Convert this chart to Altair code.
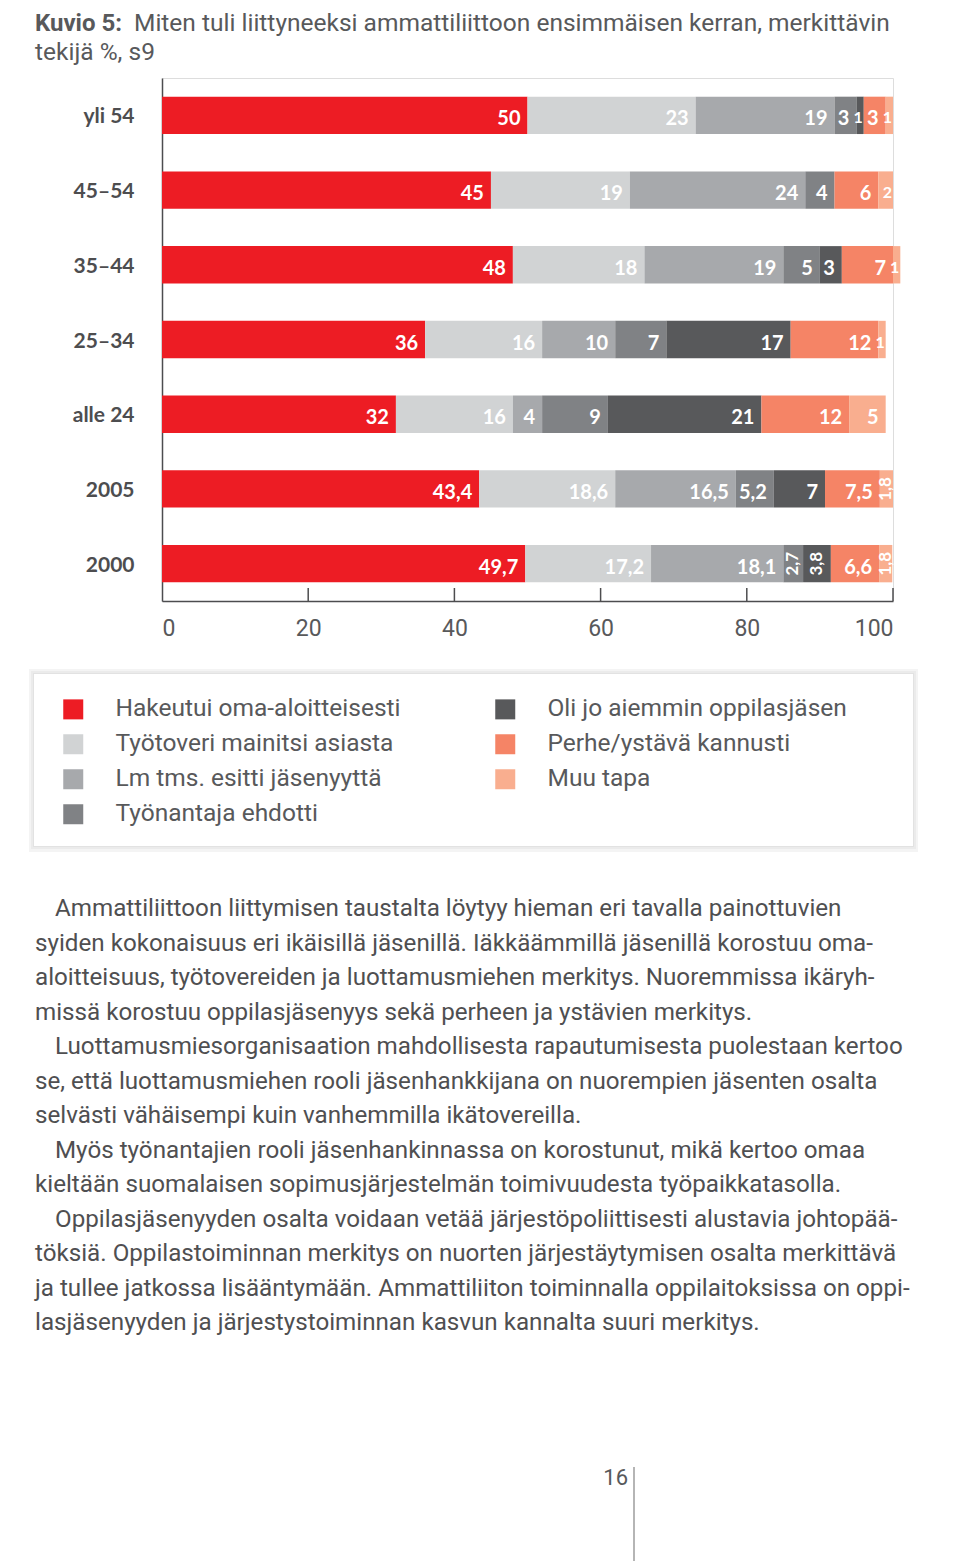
import altair as alt
import pandas as pd

# ---------------- data ----------------
groups = ["yli 54", "45–54", "35–44", "25–34", "alle 24", "2005", "2000"]
causes = [
    "Hakeutui oma-aloitteisesti",
    "Työtoveri mainitsi asiasta",
    "Lm tms. esitti jäsenyyttä",
    "Työnantaja ehdotti",
    "Oli jo aiemmin oppilasjäsen",
    "Perhe/ystävä kannusti",
    "Muu tapa",
]
colors = ["#ED1C24", "#D1D3D4", "#A7A9AC", "#808285", "#58595B", "#F58466", "#F9AE8F"]

hakeutui = [50, 45, 48, 36, 32, 43.4, 49.7]
tyotoveri = [23, 19, 18, 16, 16, 18.6, 17.2]
lm_esitti = [19, 24, 19, 10, 4, 16.5, 18.1]
tyonantaja = [3, 4, 5, 7, 9, 5.2, 2.7]
oppilasjasen = [1, 0, 3, 17, 21, 7, 3.8]
perhe = [3, 6, 7, 12, 12, 7.5, 6.6]
muu = [1, 2, 1, 1, 5, 1.8, 1.8]
series = [hakeutui, tyotoveri, lm_esitti, tyonantaja, oppilasjasen, perhe, muu]

x_ticks = [0, 20, 40, 60, 80, 100]

title_bold = "Kuvio 5:"
title_rest = "Miten tuli liittyneeksi ammattiliittoon ensimmäisen kerran, merkittävin"
title_line2 = "tekijä %, s9"

body_lines = [
    "Ammattiliittoon liittymisen taustalta löytyy hieman eri tavalla painottuvien",
    "syiden kokonaisuus eri ikäisillä jäsenillä. Iäkkäämmillä jäsenillä korostuu oma-",
    "aloitteisuus, työtovereiden ja luottamusmiehen merkitys. Nuoremmissa ikäryh-",
    "missä korostuu oppilasjäsenyys sekä perheen ja ystävien merkitys.",
    "Luottamusmiesorganisaation mahdollisesta rapautumisesta puolestaan kertoo",
    "se, että luottamusmiehen rooli jäsenhankkijana on nuorempien jäsenten osalta",
    "selvästi vähäisempi kuin vanhemmilla ikätovereilla.",
    "Myös työnantajien rooli jäsenhankinnassa on korostunut, mikä kertoo omaa",
    "kieltään suomalaisen sopimusjärjestelmän toimivuudesta työpaikkatasolla.",
    "Oppilasjäsenyyden osalta voidaan vetää järjestöpoliittisesti alustavia johtopää-",
    "töksiä. Oppilastoiminnan merkitys on nuorten järjestäytymisen osalta merkittävä",
    "ja tullee jatkossa lisääntymään. Ammattiliiton toiminnalla oppilaitoksissa on oppi-",
    "lasjäsenyyden ja järjestystoiminnan kasvun kannalta suuri merkitys.",
]
paragraph_starts = [0, 4, 7, 9]
page_number = "16"

# ---------------- table ----------------
rows = []
for ci, (c, vals) in enumerate(zip(causes, series)):
    for g, v in zip(groups, vals):
        rows.append({"group": g, "cause": c, "ci": ci, "value": v,
                     "label": f"{v:g}".replace(".", ",")})
df = pd.DataFrame(rows)

FONT = "Roboto"
NUMFONT = "Lato"
TXT = "#58595b"
AX = "#4d4d4f"

W, H = 731, 523
OX, OY = 162, 78  # page position of plot origin


def px(x):
    return x - OX


def py(y):
    return y - OY


x_scale = alt.Scale(domain=[0, 100], nice=False, zero=True)
x_axis = alt.Axis(values=x_ticks, labelFlush=True, ticks=False, grid=False,
                  domainColor=AX, domainWidth=1.5, labelFont=FONT, labelFontSize=23,
                  labelColor=TXT, labelPadding=16, title=None)
y_axis = alt.Axis(title=None, ticks=False, domainColor=AX, domainWidth=1.5,
                  labelFont=NUMFONT, labelFontWeight="bold", labelFontSize=21,
                  labelColor=AX, labelPadding=28, labelOffset=2)
y_scale = alt.Scale(paddingInner=0.5, paddingOuter=0.25)


def Y():
    return alt.Y("group:N", sort=groups, scale=y_scale, axis=y_axis)


def X(field):
    return alt.X(field, scale=x_scale, axis=x_axis)


base = alt.Chart(df).transform_stack(
    stack="value", groupby=["group"], as_=["x0", "x1"],
    sort=[alt.SortField("ci", order="ascending")]
).transform_calculate(xm="(datum.x0 + datum.x1) / 2")

bars = base.mark_bar(strokeWidth=0).encode(
    x=X("x0:Q"),
    x2="x1:Q",
    y=Y(),
    color=alt.Color(
        "cause:N",
        scale=alt.Scale(domain=causes, range=colors),
        legend=alt.Legend(
            orient="none", legendX=-101, legendY=py(697), columns=2, title=None,
            symbolType="square", symbolSize=400, symbolStrokeWidth=0, symbolOpacity=1,
            labelFont=FONT, labelFontSize=24.5, labelColor=TXT, labelOffset=30,
            rowPadding=10, columnPadding=92, labelLimit=600, padding=0,
        ),
    ),
)

is_rot = "datum.value < 4 && floor(datum.value) != datum.value"
is_small = "datum.value <= 2 && floor(datum.value) == datum.value"

labels = base.transform_filter(
    f"datum.value > 0 && !({is_rot}) && !({is_small})"
).mark_text(align="right", baseline="middle", dx=-7, dy=4, font=NUMFONT,
            fontWeight="bold", fontSize=20, color="white").encode(
    x=X("x1:Q"), y=Y(), text="label:N")

small_labels = base.transform_filter(
    f"datum.value > 0 && {is_small}"
).mark_text(align="right", baseline="middle", dx=-1, dy=3, font=NUMFONT,
            fontWeight="bold", fontSize=16, color="white").encode(
    x=X("x1:Q"), y=Y(), text="label:N")

rot_labels = base.transform_filter(is_rot).mark_text(
    align="center", baseline="middle", angle=270, font=NUMFONT,
    fontWeight="bold", fontSize=17, color="white").encode(
    x=X("xm:Q"), y=Y(), text="label:N")

tick_rules = alt.Chart(pd.DataFrame({"t": x_ticks[1:]})).mark_rule(
    color=AX, strokeWidth=1.5).encode(
    x=X("t:Q"), y=alt.value(H - 13), y2=alt.value(H))

one = pd.DataFrame({"k": [0]})


def box(x1, x2, y1, y2, **kw):
    return alt.Chart(one).mark_rect(**kw).encode(
        x=alt.value(px(x1)), x2=alt.value(px(x2)),
        y=alt.value(py(y1)), y2=alt.value(py(y2)))


legend_bg = [
    box(29, 918, 669, 852, fill="#f4f4f4"),
    box(31, 916, 671, 849, fill="#ebebeb"),
    box(33, 914, 673, 847, fill="#e2e2e2"),
    box(34, 913, 674, 846, fill="white"),
]


def text_layer(t, x, y, **kw):
    props = dict(font=FONT, fontSize=23, color=TXT, align="left", baseline="alphabetic")
    props.update(kw)
    return alt.Chart(pd.DataFrame({"t": [t]})).mark_text(**props).encode(
        x=alt.value(px(x)), y=alt.value(py(y)), text="t:N")


title_layers = [
    text_layer(title_bold, 35, 31, fontWeight="bold", fontSize=24),
    text_layer(title_rest, 134, 31, fontSize=24.5),
    text_layer(title_line2, 35, 60, fontSize=24.5),
]

body_layers = []
for i, line in enumerate(body_lines):
    x = 55 if i in paragraph_starts else 35
    body_layers.append(text_layer(line, x, 916 + i * 34.5, fontSize=24.2, color="#4f4f51"))

page_layers = [
    text_layer(page_number, 628, 1485, fontSize=22, align="right"),
    alt.Chart(one).mark_rule(color="#b5b5b5", strokeWidth=2).encode(
        x=alt.value(px(634)), y=alt.value(py(1467)), y2=alt.value(py(1561))),
]

chart = alt.layer(
    *legend_bg, bars, labels, small_labels, rot_labels, tick_rules,
    *title_layers, *body_layers, *page_layers
).properties(
    width=W, height=H,
    autosize=alt.AutoSizeParams(type="none"),
    padding={"left": OX - 8, "top": OY - 8, "right": 944 - (OX - 8) - W, "bottom": 1553 - (OY - 8) - H},
).configure_view(stroke=None).configure(background="white")

chart.save("out.html", embed_options={"renderer": "svg", "actions": False})
